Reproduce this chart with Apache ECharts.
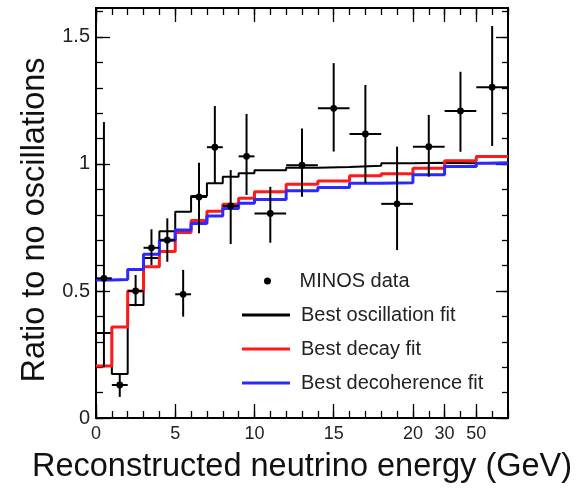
<!DOCTYPE html>
<html><head><meta charset="utf-8">
<script src="https://cdn.jsdelivr.net/npm/echarts@6/dist/echarts.min.js"></script>
<style>html,body{margin:0;padding:0;background:#fff}#c{width:577px;height:493px}</style>
</head><body><div id="c"></div>
<script>
// Bin edges in axis units: 0-20 GeV linear, then 20-30, 30-50, 50+ GeV each 2 units wide
const binEdges = [0,1,2,3,4,5,6,7,8,9,10,12,14,16,18,20,22,24,26];
// Fit curves (value per bin)
const oscFit   = [0.335,0.173,0.445,0.63,0.735,0.812,0.874,0.924,0.95,0.963,0.975,0.985,0.988,0.993,1.003,1.005,1.003,1.006];
const decayFit = [0.205,0.358,0.50,0.595,0.655,0.73,0.777,0.814,0.841,0.865,0.891,0.92,0.933,0.954,0.962,0.983,1.013,1.029];
const decohFit = [0.543,0.545,0.585,0.645,0.70,0.74,0.766,0.795,0.825,0.845,0.86,0.895,0.907,0.924,0.926,0.958,0.99,1.003];
// MINOS data: ratio per bin, with lower / upper ends of error bar
const dataY     = [0.55,0.13,0.50,0.67,0.70,0.487,0.87,1.066,0.835,1.03,0.805,0.995,1.219,1.118,0.843,1.068,1.209,1.302];
const dataYLow  = [0.20,0.083,0.44,0.602,0.615,0.399,0.727,0.925,0.685,0.878,0.69,0.871,1.049,0.924,0.661,0.95,1.048,1.071];
const dataYHigh = [1.165,0.177,0.563,0.743,0.786,0.583,1.005,1.228,0.976,1.197,0.91,1.14,1.397,1.311,1.068,1.193,1.363,1.543];
// Tick labels
const xMajorTicks = [0,5,10,15,20,22,24];
const xTickLabels = ['0','5','10','15','20','30','50'];
const xMinorTicks = [0,1,2,3,4,5,6,7,8,9,10,11,12,13,14,15,16,17,18,19,20,21,22,23,24,25,26];
const yMajorTicks = [0,0.5,1,1.5];
const yTickLabels = ['0','0.5','1','1.5'];
const yMinorTicks = [0,0.1,0.2,0.3,0.4,0.5,0.6,0.7,0.8,0.9,1.0,1.1,1.2,1.3,1.4,1.5,1.6];

const FONT = 'Liberation Sans, Arial, Helvetica, sans-serif';
const X_MAX = 26, Y_MAX = 1.614;

function stepData(vals){
  const out = [];
  for (let i = 0; i < vals.length; i++){
    out.push([binEdges[i], vals[i]]);
    out.push([binEdges[i+1], vals[i]]);
  }
  return out;
}
const points = dataY.map((y,i)=>[
  (binEdges[i]+binEdges[i+1])/2, y, binEdges[i], binEdges[i+1], dataYLow[i], dataYHigh[i]
]);
function lookup(ticks, labels, v){
  for (let i=0;i<ticks.length;i++) if (Math.abs(ticks[i]-v)<1e-6) return labels[i];
  return '';
}
const lineStyleAxis = {color:'#000', width:2};
function xAx(pos, ticks, len, labels){
  return {
    type:'value', min:0, max:X_MAX, position:pos, gridIndex:0,
    axisLine:{show:true, onZero:false, lineStyle:lineStyleAxis},
    axisTick:{show:true, inside:true, length:len, customValues:ticks, lineStyle:{color:'#000', width:1.3}},
    axisLabel: labels ? {show:true, customValues:xMajorTicks, formatter:v=>lookup(xMajorTicks,xTickLabels,v),
      fontFamily:FONT, fontSize:18, color:'#222', margin:7} : {show:false},
    splitLine:{show:false}
  };
}
function yAx(pos, ticks, len, labels){
  return {
    type:'value', min:0, max:Y_MAX, position:pos, gridIndex:0,
    axisLine:{show:true, onZero:false, lineStyle:lineStyleAxis},
    axisTick:{show:true, inside:true, length:len, customValues:ticks, lineStyle:{color:'#000', width:1.3}},
    axisLabel: labels ? {show:true, customValues:yMajorTicks, formatter:v=>lookup(yMajorTicks,yTickLabels,v),
      fontFamily:FONT, fontSize:20, color:'#222', margin:6} : {show:false},
    splitLine:{show:false}
  };
}
const xAxes = [xAx('bottom', xMajorTicks, 14, true), xAx('bottom', xMinorTicks, 7, false),
               xAx('top', xMajorTicks, 14, false), xAx('top', xMinorTicks, 7, false)];
xAxes[0].name = 'Reconstructed neutrino energy (GeV)';
xAxes[0].nameLocation = 'middle';
xAxes[0].nameGap = 33;
xAxes[0].nameTextStyle = {fontFamily:FONT, fontSize:32.5, color:'#111'};
const yAxes = [yAx('left', yMajorTicks, 14, true), yAx('left', yMinorTicks, 7, false),
               yAx('right', yMajorTicks, 12, false), yAx('right', yMinorTicks, 6, false)];
yAxes[0].name = 'Ratio to no oscillations';
yAxes[0].nameLocation = 'middle';
yAxes[0].nameGap = 43;
yAxes[0].nameTextStyle = {fontFamily:FONT, fontSize:32.5, color:'#111', padding:[0,14,0,0]};

const option = {
  animation:false,
  backgroundColor:'#fff',
  grid:{left:96, right:69, top:8, bottom:75, containLabel:false, outerBoundsMode:'none'},
  xAxis:xAxes,
  yAxis:yAxes,
  legend:[
    {data:[{name:'MINOS data', icon:'circle'}], orient:'vertical', left:264, top:271, padding:0,
     itemWidth:48, itemHeight:7, selectedMode:false,
     textStyle:{fontFamily:FONT, fontSize:20, color:'#222', padding:[0,0,0,3]}},
    {data:[{name:'Best oscillation fit', icon:'rect'},{name:'Best decay fit', icon:'rect'},{name:'Best decoherence fit', icon:'rect'}],
     orient:'vertical', left:242, top:305, padding:0,
     itemWidth:48, itemHeight:3, itemGap:14, selectedMode:false,
     textStyle:{fontFamily:FONT, fontSize:20, color:'#222', padding:[0,0,0,6]}}
  ],
  series:[
    {name:'Best oscillation fit', type:'line', data:stepData(oscFit), symbol:'none', showSymbol:false,
     lineStyle:{color:'#000', width:2}, itemStyle:{color:'#000'}, z:2},
    {name:'Best decay fit', type:'line', data:stepData(decayFit), symbol:'none', showSymbol:false,
     lineStyle:{color:'#ff1a1a', width:3}, itemStyle:{color:'#ff1a1a'}, z:3},
    {name:'Best decoherence fit', type:'line', data:stepData(decohFit), symbol:'none', showSymbol:false,
     lineStyle:{color:'#2a2aff', width:3}, itemStyle:{color:'#2a2aff'}, z:4},
    {name:'MINOS data', type:'custom', data:points, z:5, itemStyle:{color:'#000'},
     encode:{x:[0,2,3], y:[1,4,5]},
     renderItem:(params, api)=>{
       const x = api.value(0), y = api.value(1);
       const p = api.coord([x,y]);
       const pl = api.coord([api.value(2), y]);
       const ph = api.coord([api.value(3), y]);
       const pLo = api.coord([x, api.value(4)]);
       const pHi = api.coord([x, api.value(5)]);
       return {type:'group', children:[
         {type:'line', shape:{x1:pl[0], y1:p[1], x2:ph[0], y2:p[1]}, style:{stroke:'#000', lineWidth:2}},
         {type:'line', shape:{x1:p[0], y1:pHi[1], x2:p[0], y2:pLo[1]}, style:{stroke:'#000', lineWidth:2}},
         {type:'circle', shape:{cx:p[0], cy:p[1], r:3.4}, style:{fill:'#000'}}
       ]};
     }}
  ]
};
const chart = echarts.init(document.getElementById('c'), null, {renderer:'canvas'});
chart.setOption(option);
</script>
</body></html>
